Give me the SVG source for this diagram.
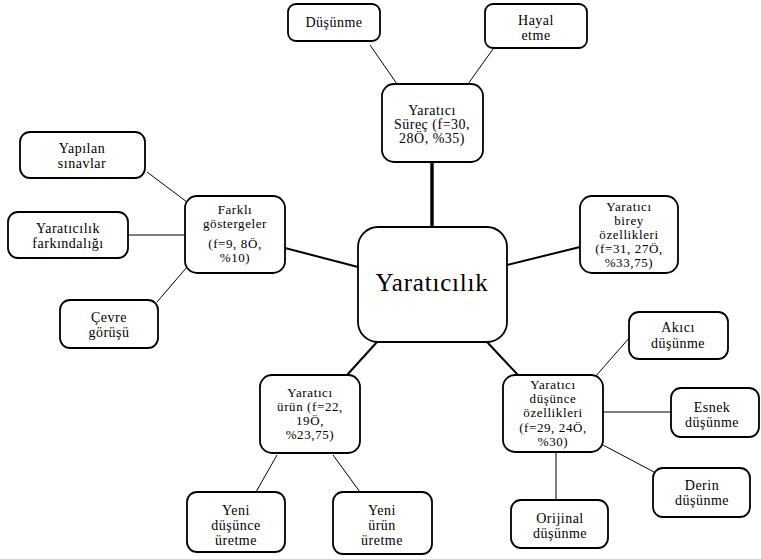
<svg xmlns="http://www.w3.org/2000/svg" width="761" height="559" viewBox="0 0 761 559">
<style>
.bx{fill:#fff;stroke:#000;stroke-width:1.8}
.t{font-family:"Liberation Serif","Times New Roman",serif;font-size:14px;fill:#000;text-anchor:middle;letter-spacing:0.5px}
.t2{font-family:"Liberation Serif","Times New Roman",serif;font-size:13px;fill:#000;text-anchor:middle;letter-spacing:0.6px}
.big{font-family:"Liberation Serif","Times New Roman",serif;font-size:25px;fill:#000;text-anchor:middle;letter-spacing:0.8px}
.c1{stroke:#000;stroke-width:1;fill:none}
.c2{stroke:#000;stroke-width:2;fill:none}
.c3{stroke:#000;stroke-width:3.4;fill:none}
</style>
<rect width="761" height="559" fill="#fff"/>
<g id="connectors">
<line class="c3" x1="432" y1="162" x2="432" y2="227"/>
<line class="c2" x1="507" y1="265" x2="580" y2="247"/>
<line class="c2" x1="285" y1="248" x2="358" y2="267"/>
<line class="c2" x1="487" y1="342" x2="518" y2="375"/>
<line class="c2" x1="377" y1="342" x2="347" y2="375"/>
<line class="c1" x1="370" y1="45" x2="397" y2="84"/>
<line class="c1" x1="493" y1="49" x2="468" y2="84"/>
<line class="c1" x1="147" y1="172" x2="187" y2="202"/>
<line class="c1" x1="128" y1="235" x2="185" y2="235"/>
<line class="c1" x1="157" y1="302" x2="187" y2="267"/>
<line class="c1" x1="595" y1="377" x2="630" y2="337"/>
<line class="c1" x1="602" y1="412" x2="671" y2="412"/>
<line class="c1" x1="603" y1="445" x2="654" y2="472"/>
<line class="c1" x1="556" y1="452" x2="556" y2="500"/>
<line class="c1" x1="277" y1="455" x2="256" y2="492"/>
<line class="c1" x1="333" y1="455" x2="360" y2="492"/>
</g>
<g id="yaraticilik">
<rect class="bx" x="358" y="227" width="149" height="115" rx="20"/>
<text class="big" x="432" y="291">Yaratıcılık</text>
</g>
<g id="surec">
<rect class="bx" x="382" y="84" width="101" height="78" rx="12"/>
<text class="t" x="432" y="115">Yaratıcı</text>
<text class="t" x="432" y="129">Süreç (f=30,</text>
<text class="t" x="432" y="143">28Ö, %35)</text>
</g>
<g id="dusunme">
<rect class="bx" x="288" y="4" width="92" height="37" rx="8"/>
<text class="t" x="334" y="27">Düşünme</text>
</g>
<g id="hayal">
<rect class="bx" x="485" y="4" width="102" height="44" rx="8"/>
<text class="t" x="536" y="25">Hayal</text>
<text class="t" x="536" y="40">etme</text>
</g>
<g id="birey">
<rect class="bx" x="580" y="196" width="98" height="77" rx="12"/>
<text class="t2" x="629" y="211">Yaratıcı</text>
<text class="t2" x="629" y="225">birey</text>
<text class="t2" x="629" y="239">özellikleri</text>
<text class="t2" x="629" y="253">(f=31, 27Ö,</text>
<text class="t2" x="629" y="267">%33,75)</text>
</g>
<g id="farkli">
<rect class="bx" x="185" y="196" width="100" height="77" rx="12"/>
<text class="t2" x="235" y="214">Farklı</text>
<text class="t2" x="235" y="228">göstergeler</text>
<text class="t2" x="235" y="248">(f=9, 8Ö,</text>
<text class="t2" x="235" y="262">%10)</text>
</g>
<g id="sinavlar">
<rect class="bx" x="20" y="132" width="125" height="46" rx="10"/>
<text class="t" x="82" y="153">Yapılan</text>
<text class="t" x="82" y="168">sınavlar</text>
</g>
<g id="farkindalik">
<rect class="bx" x="8" y="212" width="120" height="46" rx="10"/>
<text class="t" x="68" y="233">Yaratıcılık</text>
<text class="t" x="68" y="248">farkındalığı</text>
</g>
<g id="cevre">
<rect class="bx" x="60" y="300" width="98" height="48" rx="10"/>
<text class="t" x="109" y="322">Çevre</text>
<text class="t" x="109" y="337">görüşü</text>
</g>
<g id="dusunce">
<rect class="bx" x="503" y="375" width="100" height="77" rx="12"/>
<text class="t2" x="553" y="389">Yaratıcı</text>
<text class="t2" x="553" y="403">düşünce</text>
<text class="t2" x="553" y="417">özellikleri</text>
<text class="t2" x="553" y="432">(f=29, 24Ö,</text>
<text class="t2" x="553" y="446">%30)</text>
</g>
<g id="akici">
<rect class="bx" x="629" y="312" width="99" height="47" rx="10"/>
<text class="t" x="678" y="332">Akıcı</text>
<text class="t" x="678" y="348">düşünme</text>
</g>
<g id="esnek">
<rect class="bx" x="671" y="388" width="88" height="49" rx="10"/>
<text class="t" x="712" y="412">Esnek</text>
<text class="t" x="712" y="427">düşünme</text>
</g>
<g id="derin">
<rect class="bx" x="653" y="468" width="97" height="49" rx="10"/>
<text class="t" x="702" y="490">Derin</text>
<text class="t" x="702" y="505">düşünme</text>
</g>
<g id="orijinal">
<rect class="bx" x="511" y="500" width="97" height="48" rx="10"/>
<text class="t" x="560" y="523">Orijinal</text>
<text class="t" x="560" y="538">düşünme</text>
</g>
<g id="urun">
<rect class="bx" x="260" y="375" width="100" height="78" rx="12"/>
<text class="t2" x="310" y="397">Yaratıcı</text>
<text class="t2" x="310" y="411">ürün (f=22,</text>
<text class="t2" x="310" y="425">19Ö,</text>
<text class="t2" x="310" y="439">%23,75)</text>
</g>
<g id="yeni-dusunce">
<rect class="bx" x="187" y="492" width="98" height="60" rx="10"/>
<text class="t" x="236" y="515">Yeni</text>
<text class="t" x="236" y="530">düşünce</text>
<text class="t" x="236" y="545">üretme</text>
</g>
<g id="yeni-urun">
<rect class="bx" x="333" y="492" width="99" height="62" rx="10"/>
<text class="t" x="382" y="515">Yeni</text>
<text class="t" x="382" y="530">ürün</text>
<text class="t" x="382" y="545">üretme</text>
</g>
</svg>
